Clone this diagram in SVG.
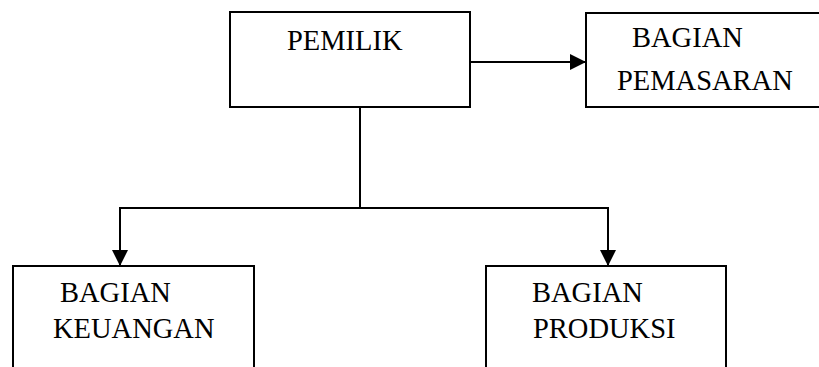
<svg xmlns="http://www.w3.org/2000/svg" width="819" height="367" viewBox="0 0 819 367">
<style>
.box{fill:#fff;stroke:#000;stroke-width:2}
.t{font-family:"Liberation Serif","Times New Roman",serif;font-size:28.5px;fill:#000}
.ln{fill:none;stroke:#000;stroke-width:2}
</style>
<defs>
<marker id="ah" markerWidth="16" markerHeight="16" refX="16" refY="8" orient="auto" markerUnits="userSpaceOnUse">
<path d="M0,0 L16,8 L0,16 Z" fill="#000"/>
</marker>
</defs>
<rect width="819" height="367" fill="#fff"/>
<g id="connectors">
<line class="ln" x1="470" y1="62" x2="586" y2="62" marker-end="url(#ah)"/>
<line class="ln" x1="360" y1="107" x2="360" y2="208"/>
<line class="ln" x1="119" y1="208" x2="609" y2="208"/>
<line class="ln" x1="120" y1="208" x2="120" y2="266" marker-end="url(#ah)"/>
<line class="ln" x1="608" y1="208" x2="608" y2="266" marker-end="url(#ah)"/>
</g>
<g id="pemilik">
<rect class="box" x="230" y="12" width="240" height="95"/>
<text class="t" x="287" y="50">PEMILIK</text>
</g>
<g id="pemasaran">
<rect class="box" x="586" y="13" width="250" height="94"/>
<text class="t" x="632" y="47">BAGIAN</text>
<text class="t" x="617" y="90">PEMASARAN</text>
</g>
<g id="keuangan">
<rect class="box" x="13" y="266" width="241" height="120"/>
<text class="t" x="60" y="302">BAGIAN</text>
<text class="t" x="53" y="338">KEUANGAN</text>
</g>
<g id="produksi">
<rect class="box" x="486" y="266" width="240" height="120"/>
<text class="t" x="532" y="302">BAGIAN</text>
<text class="t" x="533" y="338">PRODUKSI</text>
</g>
</svg>
